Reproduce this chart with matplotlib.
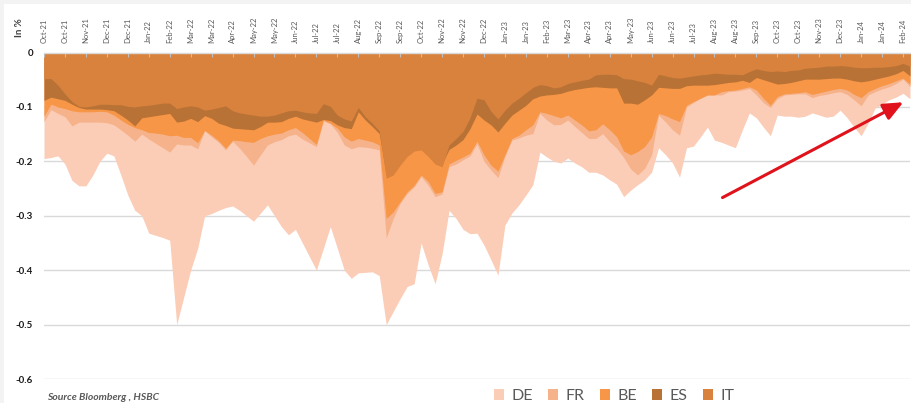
import matplotlib
matplotlib.use("Agg")
import matplotlib.pyplot as plt
import pandas as pd
import numpy as np

# -------------
# Data (weekly, in %)
# -------------
dates = pd.date_range("2021-10-05", periods=125, freq="7D")
countries = ["DE", "FR", "BE", "ES", "IT"]

de = [-0.195, -0.193, -0.19, -0.205, -0.235, -0.245, -0.245, -0.225, -0.2, -0.185, -0.19, -0.225, -0.262, -0.29, -0.3, -0.332, -0.336, -0.34, -0.345, -0.5, -0.45,
      -0.4, -0.36, -0.3, -0.296, -0.29, -0.285, -0.282, -0.29, -0.3, -0.31, -0.295, -0.28, -0.3, -0.32, -0.335, -0.325, -0.35, -0.375, -0.4, -0.36, -0.32,
      -0.36, -0.4, -0.415, -0.405, -0.404, -0.403, -0.41, -0.5, -0.476, -0.452, -0.43, -0.425, -0.35, -0.39, -0.425, -0.37, -0.29, -0.305, -0.325, -0.333, -0.332,
      -0.354, -0.381, -0.409, -0.317, -0.295, -0.28, -0.262, -0.243, -0.183, -0.192, -0.2, -0.203, -0.194, -0.203, -0.21, -0.22, -0.22, -0.225, -0.234, -0.242, -0.265,
      -0.253, -0.243, -0.234, -0.22, -0.175, -0.188, -0.203, -0.229, -0.175, -0.172, -0.155, -0.137, -0.161, -0.165, -0.17, -0.175, -0.142, -0.111, -0.12, -0.137, -0.153,
      -0.115, -0.117, -0.117, -0.119, -0.117, -0.111, -0.115, -0.119, -0.117, -0.106, -0.12, -0.137, -0.153, -0.13, -0.102, -0.095, -0.087, -0.082, -0.075, -0.085]

fr = [-0.127, -0.105, -0.112, -0.118, -0.135, -0.128, -0.128, -0.128, -0.128, -0.129, -0.133, -0.142, -0.152, -0.163, -0.15, -0.159, -0.167, -0.175, -0.183, -0.168, -0.17,
      -0.17, -0.177, -0.144, -0.155, -0.165, -0.179, -0.163, -0.176, -0.191, -0.207, -0.188, -0.17, -0.164, -0.16, -0.153, -0.15, -0.159, -0.166, -0.173, -0.126, -0.131,
      -0.147, -0.17, -0.177, -0.173, -0.174, -0.176, -0.179, -0.341, -0.305, -0.277, -0.259, -0.247, -0.228, -0.244, -0.265, -0.26, -0.21, -0.205, -0.197, -0.19, -0.168,
      -0.2, -0.216, -0.23, -0.191, -0.161, -0.157, -0.152, -0.149, -0.112, -0.124, -0.133, -0.132, -0.124, -0.136, -0.147, -0.158, -0.158, -0.149, -0.164, -0.176, -0.193,
      -0.214, -0.225, -0.213, -0.188, -0.115, -0.128, -0.142, -0.152, -0.1, -0.092, -0.084, -0.078, -0.078, -0.078, -0.072, -0.071, -0.069, -0.066, -0.078, -0.092, -0.101,
      -0.085, -0.078, -0.077, -0.076, -0.076, -0.083, -0.079, -0.077, -0.074, -0.072, -0.077, -0.087, -0.098, -0.078, -0.072, -0.067, -0.063, -0.057, -0.049, -0.063]

be = [-0.117, -0.095, -0.1, -0.103, -0.107, -0.109, -0.109, -0.109, -0.108, -0.109, -0.115, -0.124, -0.132, -0.138, -0.142, -0.147, -0.148, -0.15, -0.153, -0.152, -0.156,
      -0.156, -0.166, -0.143, -0.152, -0.162, -0.176, -0.161, -0.162, -0.164, -0.165, -0.158, -0.153, -0.15, -0.148, -0.142, -0.138, -0.147, -0.158, -0.169, -0.124, -0.13,
      -0.139, -0.155, -0.163, -0.158, -0.161, -0.164, -0.17, -0.305, -0.293, -0.274, -0.256, -0.244, -0.225, -0.237, -0.259, -0.256, -0.205, -0.198, -0.192, -0.185, -0.163,
      -0.188, -0.207, -0.218, -0.188, -0.158, -0.152, -0.142, -0.133, -0.109, -0.112, -0.116, -0.12, -0.115, -0.124, -0.133, -0.144, -0.142, -0.131, -0.142, -0.155, -0.181,
      -0.188, -0.182, -0.173, -0.155, -0.112, -0.116, -0.122, -0.127, -0.097, -0.09, -0.084, -0.078, -0.078, -0.072, -0.07, -0.069, -0.066, -0.063, -0.069, -0.084, -0.097,
      -0.081, -0.076, -0.075, -0.074, -0.072, -0.077, -0.074, -0.071, -0.068, -0.066, -0.069, -0.077, -0.083, -0.072, -0.066, -0.061, -0.057, -0.052, -0.047, -0.058]

es = [-0.088, -0.082, -0.085, -0.088, -0.095, -0.101, -0.104, -0.104, -0.104, -0.105, -0.107, -0.115, -0.124, -0.135, -0.12, -0.118, -0.116, -0.114, -0.112, -0.128, -0.126,
      -0.121, -0.127, -0.116, -0.121, -0.13, -0.134, -0.139, -0.14, -0.141, -0.142, -0.136, -0.128, -0.128, -0.127, -0.121, -0.117, -0.122, -0.125, -0.128, -0.123, -0.125,
      -0.133, -0.138, -0.14, -0.109, -0.124, -0.136, -0.149, -0.225, -0.22, -0.2, -0.185, -0.175, -0.173, -0.185, -0.2, -0.205, -0.178, -0.17, -0.16, -0.14, -0.113,
      -0.124, -0.133, -0.146, -0.13, -0.115, -0.106, -0.097, -0.085, -0.08, -0.078, -0.077, -0.075, -0.071, -0.068, -0.066, -0.064, -0.063, -0.064, -0.065, -0.065, -0.093,
      -0.093, -0.095, -0.087, -0.078, -0.064, -0.065, -0.066, -0.066, -0.061, -0.06, -0.06, -0.06, -0.059, -0.057, -0.055, -0.054, -0.051, -0.055, -0.046, -0.05, -0.054,
      -0.058, -0.057, -0.055, -0.052, -0.049, -0.049, -0.049, -0.048, -0.047, -0.047, -0.049, -0.052, -0.054, -0.052, -0.049, -0.046, -0.043, -0.039, -0.033, -0.043]

it = [-0.048, -0.048, -0.06, -0.076, -0.09, -0.099, -0.1, -0.098, -0.095, -0.095, -0.096, -0.096, -0.099, -0.1, -0.098, -0.097, -0.095, -0.093, -0.093, -0.103, -0.1,
      -0.098, -0.1, -0.106, -0.104, -0.101, -0.098, -0.107, -0.111, -0.113, -0.115, -0.117, -0.117, -0.115, -0.111, -0.107, -0.106, -0.109, -0.111, -0.112, -0.094, -0.099,
      -0.115, -0.122, -0.126, -0.101, -0.118, -0.13, -0.144, -0.231, -0.225, -0.207, -0.191, -0.181, -0.179, -0.191, -0.205, -0.21, -0.17, -0.158, -0.145, -0.12, -0.084,
      -0.087, -0.108, -0.122, -0.106, -0.093, -0.084, -0.074, -0.064, -0.059, -0.061, -0.065, -0.063, -0.057, -0.054, -0.051, -0.049, -0.041, -0.04, -0.04, -0.041, -0.048,
      -0.049, -0.052, -0.055, -0.06, -0.04, -0.043, -0.046, -0.047, -0.045, -0.043, -0.041, -0.04, -0.038, -0.039, -0.04, -0.04, -0.041, -0.035, -0.03, -0.033, -0.035,
      -0.034, -0.035, -0.033, -0.032, -0.029, -0.028, -0.027, -0.025, -0.025, -0.024, -0.025, -0.027, -0.028, -0.028, -0.027, -0.027, -0.026, -0.024, -0.02, -0.025]

colors = ["#FBCDB7", "#F6B38B", "#F79646", "#B97235", "#D8823D"]
y_ticks = [0, -0.1, -0.2, -0.3, -0.4, -0.5, -0.6]

# -------------
# Drawing plot
# -------------
plt.rcParams["font.family"] = ["Lato", "DejaVu Sans"]

fig = plt.figure(figsize=(9.11, 4.03), dpi=100)
fig.patch.set_facecolor("#F3F3F3")
fig.add_artist(plt.Rectangle((4 / 911, 0), 1, 1 - 4 / 403, transform=fig.transFigure,
                             facecolor="white", edgecolor="none", zorder=-10))

ax = fig.add_axes([44 / 911, 1 - 379 / 403, 866 / 911, (379 - 52.5) / 403])
ax.set_facecolor("white")

x = np.arange(len(dates))
for name, values, color in zip(countries, [de, fr, be, es, it], colors):
    ax.fill_between(x, 0, values, color=color, linewidth=0, label=name, zorder=1)

for v in y_ticks[1:]:
    ax.axhline(v, color="#D9D9D9", linewidth=1, zorder=0.2)

ax.set_xlim(0, len(dates) - 1)
ax.set_ylim(-0.6, 0)

tick_pos = x[::3]
ax.set_xticks(tick_pos)
ax.set_xticklabels([d.strftime("%b-%y") for d in dates[::3]], rotation=90,
                   fontsize=5.5, color="#595959")
ax.xaxis.tick_top()
ax.tick_params(axis="x", direction="in", length=3, width=0.8, color="#BFBFBF", pad=7)

ax.set_yticks(y_ticks)
ax.set_yticklabels(["0" if v == 0 else f"{v:.1f}" for v in y_ticks],
                   fontsize=7, fontweight="bold", color="#1A1A1A")
ax.tick_params(axis="y", length=0, pad=8)

for side in ["left", "right", "bottom"]:
    ax.spines[side].set_visible(False)
ax.spines["top"].set_color("#D9D9D9")
ax.spines["top"].set_linewidth(1)

# arrow showing the trend
ax.annotate("", xy=(123.4, -0.089), xytext=(96.8, -0.269),
            arrowprops=dict(arrowstyle="-|>,head_length=0.8,head_width=0.35",
                            color="#E0121B", lw=2.2, mutation_scale=15),
            zorder=5)

fig.text(19 / 911, 1 - 28 / 403, "In %", rotation=90, ha="center", va="center",
         fontsize=7, fontweight="bold", color="#404040")
fig.text(47 / 911, 1 - 397 / 403, "Source Bloomberg , HSBC", ha="left", va="center",
         fontsize=7.5, fontweight="bold", style="italic", color="#595959")

fig.legend(loc="center", bbox_to_anchor=(614 / 911, 1 - 396 / 403), ncol=5,
           frameon=False, fontsize=11.5, handlelength=0.65, handleheight=0.65,
           handletextpad=0.45, columnspacing=0.95, labelcolor="#595959")

fig.savefig("out.png", dpi=100)
